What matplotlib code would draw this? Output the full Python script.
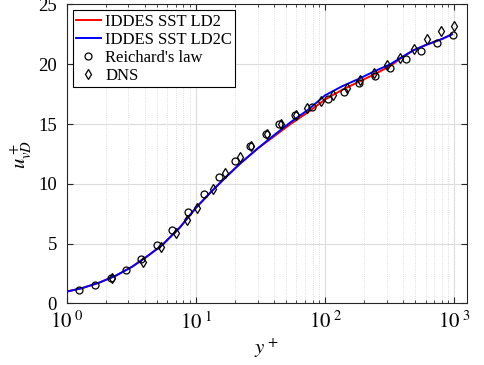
import numpy as np
import matplotlib
matplotlib.use("Agg")
import matplotlib.pyplot as plt
from matplotlib.ticker import FixedLocator, LogLocator, NullFormatter

plt.rcParams['font.family'] = ['Liberation Serif', 'DejaVu Serif']
plt.rcParams['mathtext.fontset'] = 'stix'

# IDDES curves
y_les = [1.0, 1.3, 1.8, 2.4, 3.2, 4.2, 5.5, 7.5, 10, 13, 17, 22, 30, 40, 54,
         74, 100, 135, 180, 240, 320, 380, 480, 600, 800, 960]
u_ld2c = [1.0, 1.27, 1.76, 2.33, 3.07, 3.95, 4.9, 6.35, 8.0, 9.3, 10.55, 11.7,
          12.95, 14.05, 15.15, 16.2, 17.4, 18.15, 18.75, 19.4, 20.0, 20.5,
          21.15, 21.6, 22.1, 22.5]
u_ld2 = [1.0, 1.27, 1.76, 2.33, 3.07, 3.95, 4.9, 6.35, 8.0, 9.3, 10.55, 11.7,
         12.95, 13.95, 15.0, 16.0, 17.05, 17.85, 18.5, 19.15, 19.85, 20.45,
         21.15, 21.6, 22.1, 22.5]

# Reichardt's law points
y_rei = [1.25, 1.65, 2.18, 2.86, 3.78, 4.97, 6.57, 8.67, 11.5, 15.2, 20.1,
         26.2, 34.7, 44.2, 58.5, 79, 106, 140, 184, 242, 318, 423, 556, 731, 972]
u_rei = [1.16, 1.58, 2.12, 2.82, 3.75, 4.89, 6.16, 7.65, 9.15, 10.6, 11.94,
         13.16, 14.17, 15.04, 15.79, 16.4, 17.05, 17.7, 18.4, 19.05, 19.7,
         20.4, 21.1, 21.8, 22.4]

# DNS points
y_dns = [2.25, 3.87, 5.4, 6.97, 8.5, 10.2, 13.5, 16.8, 21.9, 26.8, 35.7, 45.6,
         59.8, 73, 92.4, 116, 147, 186, 239, 303, 380, 488, 618, 785, 995]
u_dns = [2.15, 3.51, 4.74, 5.92, 7.0, 8.0, 9.57, 10.9, 12.24, 13.2, 14.2,
         15.04, 15.76, 16.35, 16.9, 17.4, 17.97, 18.66, 19.27, 19.97, 20.56,
         21.3, 22.1, 22.8, 23.2]

fig = plt.figure(figsize=(4.84, 3.65), dpi=100)
ax = fig.add_axes([0.138, 0.1685, 0.826, 0.8195])

ax.plot(y_les, u_ld2, color='red', lw=1.4, label='IDDES SST LD2')
ax.plot(y_les, u_ld2c, color='blue', lw=1.4, label='IDDES SST LD2C')
ax.plot(y_rei, u_rei, 'o', ms=5, mfc='none', mec='black', mew=0.9,
        label="Reichard's law")
ax.plot(y_dns, u_dns, 'd', ms=5.5, mfc='none', mec='black', mew=0.9,
        label='DNS')

ax.set_xscale('log')
ax.set_xlim(1, 1245)
ax.set_ylim(0, 25)
ax.xaxis.set_major_locator(FixedLocator([1, 10, 100, 1000]))
ax.set_xticklabels([r'$10^{\;0}$', r'$10^{\;1}$', r'$10^{\;2}$', r'$10^{\;3}$'],
                   fontsize=15)
ax.xaxis.set_minor_locator(LogLocator(base=10, subs=np.arange(2, 10)))
ax.xaxis.set_minor_formatter(NullFormatter())
ax.set_yticks([0, 5, 10, 15, 20, 25])

ax.grid(True, which='major', color='#dcdcdc', lw=0.8, ls='-')
ax.grid(True, which='minor', color='#d4d4d4', lw=0.6, ls=':')
ax.set_axisbelow(True)

ax.tick_params(which='both', direction='in', top=True, right=True,
               colors='#262626', labelcolor='black')
ax.tick_params(axis='y', labelsize=13.5, pad=7)
ax.tick_params(axis='x', pad=6)
ax.tick_params(which='major', length=4)
ax.tick_params(which='minor', length=2.5)
for s in ax.spines.values():
    s.set_color('#262626')
    s.set_linewidth(0.8)

ax.set_xlabel(r'$y^+$', fontsize=15, labelpad=2)
ax.set_ylabel(r'$u^+_{vD}$', fontsize=15, labelpad=4)

leg = ax.legend(loc='upper left', fontsize=12, frameon=True, fancybox=False,
                edgecolor='black', handlelength=1.5, handletextpad=0.25,
                labelspacing=0.12, borderpad=0.2, borderaxespad=0.35,
                framealpha=1)
leg.get_frame().set_linewidth(0.8)

fig.savefig('out.png', dpi=100)
